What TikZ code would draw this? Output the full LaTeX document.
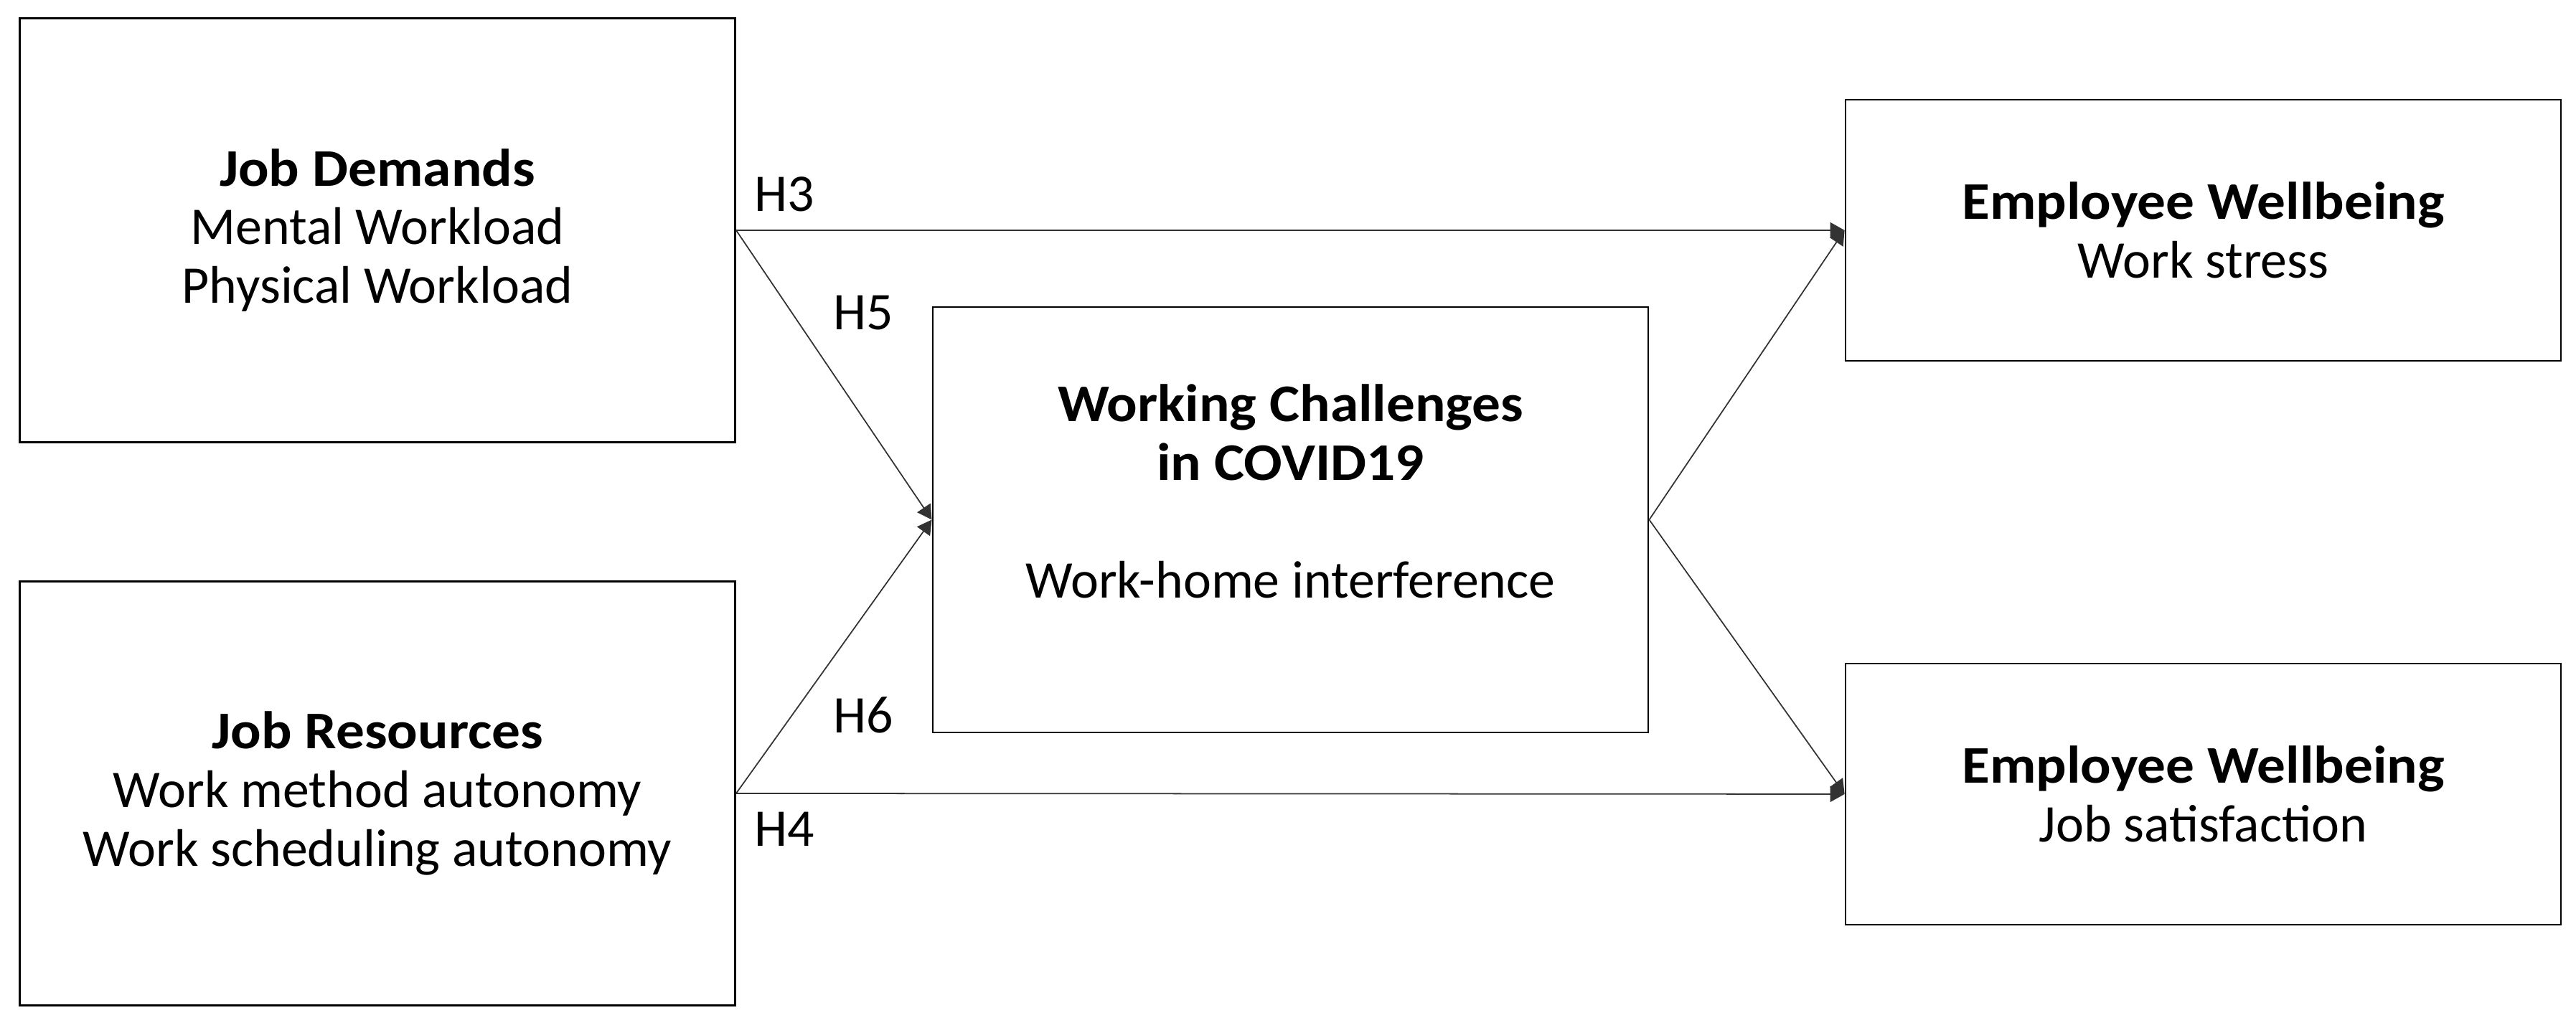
\documentclass[tikz,border=0pt]{standalone}
\usepackage{fontspec}
\setmainfont{Carlito}[BoldFeatures={FakeStretch=1.075}]
\usetikzlibrary{arrows.meta}
\tikzset{
  box/.style={draw,line width=0.8pt,minimum width=9.97cm,align=center,inner sep=0pt,font=\fontsize{21}{23.3}\selectfont},
  link/.style={draw=black!80,line width=0.5pt,-{Triangle[length=2mm,width=2.2mm]}},
  hyp/.style={font=\fontsize{21}{23.3}\selectfont,inner sep=0.25cm}
}
\begin{document}
\begin{tikzpicture}
\useasboundingbox (0,0) rectangle (35.9,14.33);
%boxes
\node[box,minimum height=5.91cm](jd) at (5.26,11.12){\textbf{Job Demands}\\Mental Workload\\Physical Workload};
\node[box,minimum height=5.91cm](jr) at (5.26,3.27){\textbf{Job Resources}\\Work method autonomy\\Work scheduling autonomy};
\node[box,minimum height=5.93cm,text depth=0.8cm](wc) at (17.985,7.085){\textbf{Working Challenges}\\\textbf{in COVID19}\\[23.3pt]Work-home interference};
\node[box,minimum height=3.64cm](ws) at (30.705,11.12){\textbf{Employee Wellbeing}\\Work stress};
\node[box,minimum height=3.64cm](js) at (30.705,3.26){\textbf{Employee Wellbeing}\\Job satisfaction};
%direct paths
\draw[link](jd.east)--node[hyp,pos=0,above right]{H3}(ws.west);
\draw[link](jr.east)--node[hyp,pos=0,below right]{H4}(js.west);
%mediated paths
\draw[link](jd.east)--node[hyp,pos=0.285,right=0.32cm]{H5}(wc.west);
\draw[link](jr.east)--node[hyp,pos=0.285,right=0.32cm]{H6}(wc.west);
\draw[link](wc.east)--(ws.west);
\draw[link](wc.east)--(js.west);
\end{tikzpicture}
\end{document}
